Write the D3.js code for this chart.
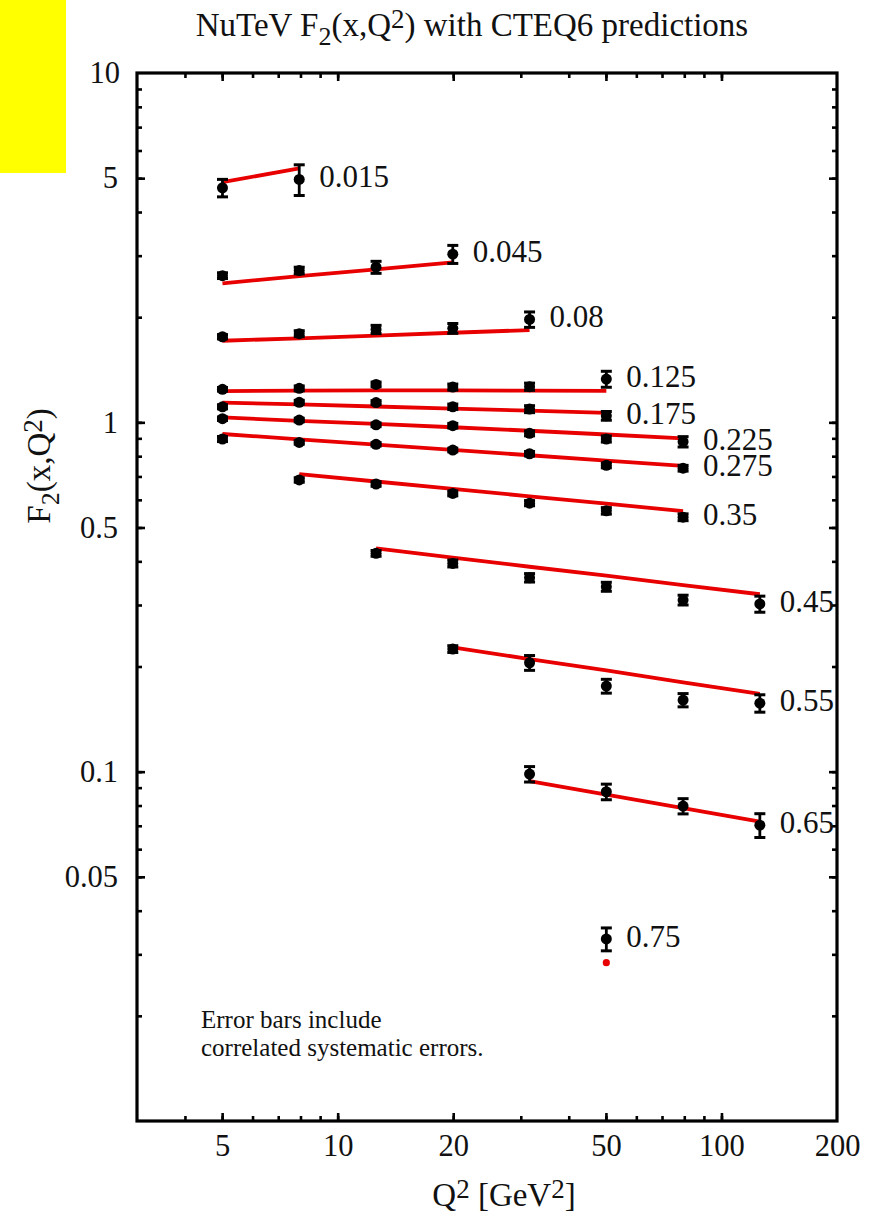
<!DOCTYPE html>
<html>
<head>
<meta charset="utf-8">
<script src="https://cdn.jsdelivr.net/npm/d3@7"></script>
<style>
  html, body { margin: 0; padding: 0; background: #fff; }
  svg { display: block; }
  text { font-family: "Liberation Serif", "Times New Roman", serif; fill: #111; }
</style>
</head>
<body>
<div id="chart"></div>
<script>
// ---------------- DATA ----------------
const Q2 = [5.01, 7.94, 12.59, 19.95, 31.62, 50.12, 79.43, 125.89];

const binLabels = ["0.015","0.045","0.08","0.125","0.175","0.225","0.275","0.35","0.45","0.55","0.65","0.75"];
const binStart  = [0, 0, 0, 0, 0, 0, 0, 1, 2, 3, 4, 5];

const f2_0015 = [4.69, 4.96];
const err_0015 = [0.27, 0.50];
const cteq_0015 = [4.87, 5.33];

const f2_0045 = [2.63, 2.72, 2.78, 3.03];
const err_0045 = [0.05, 0.06, 0.11, 0.18];
const cteq_0045 = [2.50, 2.62, 2.74, 2.87];

const f2_008 = [1.758, 1.794, 1.845, 1.858, 1.97];
const err_008 = [0.025, 0.035, 0.05, 0.06, 0.10];
const cteq_008 = [1.712, 1.74, 1.77, 1.805, 1.837];

const f2_0125 = [1.243, 1.251, 1.284, 1.262, 1.265, 1.33];
const err_0125 = [0.015, 0.02, 0.02, 0.025, 0.03, 0.07];
const cteq_0125 = [1.229, 1.232, 1.235, 1.235, 1.232, 1.23];

const f2_0175 = [1.108, 1.141, 1.139, 1.108, 1.091, 1.044];
const err_0175 = [0.015, 0.015, 0.015, 0.02, 0.025, 0.03];
const cteq_0175 = [1.139, 1.125, 1.11, 1.095, 1.08, 1.065];

const f2_0225 = [1.024, 1.015, 0.984, 0.978, 0.930, 0.896, 0.880];
const err_0225 = [0.012, 0.012, 0.012, 0.015, 0.015, 0.018, 0.03];
const cteq_0225 = [1.033, 1.01, 0.99, 0.968, 0.946, 0.923, 0.900];

const f2_0275 = [0.896, 0.876, 0.865, 0.833, 0.813, 0.753, 0.739];
const err_0275 = [0.015, 0.01, 0.01, 0.01, 0.012, 0.012, 0.014];
const cteq_0275 = [0.926, 0.894, 0.863, 0.834, 0.805, 0.777, 0.751];

const f2_035 = [0.684, 0.666, 0.626, 0.587, 0.558, 0.535];
const err_035 = [0.01, 0.01, 0.01, 0.01, 0.012, 0.012];
const cteq_035 = [0.711, 0.677, 0.645, 0.614, 0.585, 0.557];

const f2_045 = [0.4217, 0.3945, 0.359, 0.3384, 0.310, 0.302];
const err_045 = [0.008, 0.009, 0.01, 0.01, 0.01, 0.016];
const cteq_045 = [0.436, 0.410, 0.386, 0.364, 0.342, 0.322];

const f2_055 = [0.2244, 0.205, 0.1758, 0.1603, 0.157];
const err_055 = [0.005, 0.01, 0.008, 0.007, 0.009];
const cteq_055 = [0.227, 0.210, 0.195, 0.180, 0.167];

const f2_065 = [0.0984, 0.0876, 0.0797, 0.0703];
const err_065 = [0.005, 0.0045, 0.004, 0.0055];
const cteq_065 = [0.094, 0.086, 0.0786, 0.0719];

const f2_075 = [0.0332];
const err_075 = [0.0025];
const cteq_075 = [0.0284];

const f2All   = [f2_0015, f2_0045, f2_008, f2_0125, f2_0175, f2_0225, f2_0275, f2_035, f2_045, f2_055, f2_065, f2_075];
const errAll  = [err_0015, err_0045, err_008, err_0125, err_0175, err_0225, err_0275, err_035, err_045, err_055, err_065, err_075];
const cteqAll = [cteq_0015, cteq_0045, cteq_008, cteq_0125, cteq_0175, cteq_0225, cteq_0275, cteq_035, cteq_045, cteq_055, cteq_065, cteq_075];

const xTickLabels = [5, 10, 20, 50, 100, 200];
const yTickLabels = [0.05, 0.1, 0.5, 1, 5, 10];

const titleMain = "NuTeV F";
const noteLines = ["Error bars include", "correlated systematic errors."];

// ---------------- LAYOUT ----------------
const W = 883, H = 1215;
const L = 137, R = 837, T = 73, B = 1121;

const svg = d3.select("#chart").append("svg")
  .attr("width", W).attr("height", H);

svg.append("rect").attr("x", 0).attr("y", 0).attr("width", 66).attr("height", 173)
  .attr("fill", "#ffff00");

const x = d3.scaleLog().domain([3, 200]).range([L, R]);
const y = d3.scaleLog().domain([0.01, 10]).range([B, T]);

const fontTick = 30.5;

const xMinor = x.ticks().filter(v => v > 3 && v < 200);
const yMinor = y.ticks().filter(v => v > 0.01 && v < 10);

function styleAxis(g) {
  g.select(".domain").remove();
  g.selectAll(".tick line").attr("stroke", "#000").attr("stroke-width", 2.6);
  g.selectAll(".tick text").attr("font-size", fontTick)
    .attr("font-family", "Liberation Serif, serif").attr("fill", "#111");
}

// bottom
svg.append("g").attr("transform", `translate(0,${B})`)
  .call(d3.axisBottom(x).tickValues(xMinor).tickSize(-5).tickFormat(""))
  .call(styleAxis);
svg.append("g").attr("transform", `translate(0,${B})`)
  .call(d3.axisBottom(x).tickValues(xTickLabels.filter(v => v < 200)).tickSize(-8).tickPadding(13).tickFormat(d3.format("~g")))
  .call(styleAxis);
svg.append("g").attr("transform", `translate(0,${B})`)
  .call(d3.axisBottom(x).tickValues([200]).tickSize(0).tickPadding(13).tickFormat(d3.format("~g")))
  .call(styleAxis);
// top
svg.append("g").attr("transform", `translate(0,${T})`)
  .call(d3.axisTop(x).tickValues(xMinor).tickSize(-5).tickFormat(""))
  .call(styleAxis);
svg.append("g").attr("transform", `translate(0,${T})`)
  .call(d3.axisTop(x).tickValues(xTickLabels.filter(v => v < 200)).tickSize(-8).tickFormat(""))
  .call(styleAxis);
// left
svg.append("g").attr("transform", `translate(${L},0)`)
  .call(d3.axisLeft(y).tickValues(yMinor).tickSize(-5).tickFormat(""))
  .call(styleAxis);
svg.append("g").attr("transform", `translate(${L},0)`)
  .call(d3.axisLeft(y).tickValues(yTickLabels.filter(v => v < 10)).tickSize(-8).tickPadding(19).tickFormat(d3.format("~g")))
  .call(styleAxis);
svg.append("g").attr("transform", `translate(${L},0)`)
  .call(d3.axisLeft(y).tickValues([10]).tickSize(0).tickPadding(17).tickFormat(d3.format("~g")))
  .call(styleAxis);
// right
svg.append("g").attr("transform", `translate(${R},0)`)
  .call(d3.axisRight(y).tickValues(yMinor).tickSize(-5).tickFormat(""))
  .call(styleAxis);
svg.append("g").attr("transform", `translate(${R},0)`)
  .call(d3.axisRight(y).tickValues(yTickLabels.filter(v => v < 10)).tickSize(-8).tickFormat(""))
  .call(styleAxis);

// frame
svg.append("rect").attr("x", L).attr("y", T).attr("width", R - L).attr("height", B - T)
  .attr("fill", "none").attr("stroke", "#000").attr("stroke-width", 3.2);

// ---------------- SERIES ----------------
const series = binLabels.map((lab, i) => ({
  label: lab,
  pts: f2All[i].map((v, j) => ({ q: Q2[binStart[i] + j], f: v, e: errAll[i][j], p: cteqAll[i][j] }))
}));

const plot = svg.append("g");
const line = d3.line().x(d => x(d.q)).y(d => y(d.p));
const red = "#e80000";

series.forEach(s => {
  const g = plot.append("g");
  if (s.pts.length > 1) {
    g.append("path").attr("d", line(s.pts)).attr("fill", "none")
      .attr("stroke", red).attr("stroke-width", 3.8);
  } else {
    g.append("circle").attr("cx", x(s.pts[0].q)).attr("cy", y(s.pts[0].p))
      .attr("r", 3.6).attr("fill", red);
  }
  s.pts.forEach(d => {
    const cx = x(d.q);
    const y1 = y(d.f + d.e), y2 = y(d.f - d.e);
    g.append("line").attr("x1", cx).attr("x2", cx).attr("y1", y1).attr("y2", y2)
      .attr("stroke", "#000").attr("stroke-width", 2.8);
    [y1, y2].forEach(yy => g.append("line").attr("x1", cx - 5.5).attr("x2", cx + 5.5)
      .attr("y1", yy).attr("y2", yy).attr("stroke", "#000").attr("stroke-width", 3));
    g.append("circle").attr("cx", cx).attr("cy", y(d.f)).attr("r", 5.5).attr("fill", "#000");
  });
  const last = s.pts[s.pts.length - 1];
  g.append("text").attr("x", x(last.q) + 20).attr("y", y(last.f) - 3)
    .attr("dy", "0.35em").attr("font-size", 31).text(s.label);
});

// ---------------- TEXT ----------------
const title = svg.append("text").attr("x", 472).attr("y", 36)
  .attr("text-anchor", "middle").attr("font-size", 33);
title.append("tspan").text(titleMain);
title.append("tspan").attr("font-size", 26).attr("dy", 9).text("2");
title.append("tspan").attr("dy", -9).text("(x,Q");
title.append("tspan").attr("font-size", 27).attr("dy", -8).text("2");
title.append("tspan").attr("dy", 8).text(") with CTEQ6 predictions");

const xt = svg.append("text").attr("x", 504).attr("y", 1206)
  .attr("text-anchor", "middle").attr("font-size", 33);
xt.append("tspan").text("Q");
xt.append("tspan").attr("font-size", 27).attr("dy", -8).text("2");
xt.append("tspan").attr("dy", 8).text(" [GeV");
xt.append("tspan").attr("font-size", 27).attr("dy", -8).text("2");
xt.append("tspan").attr("dy", 8).text("]");

const yt = svg.append("text").attr("transform", "translate(50,466) rotate(-90)")
  .attr("text-anchor", "middle").attr("font-size", 33);
yt.append("tspan").text("F");
yt.append("tspan").attr("font-size", 26).attr("dy", 9).text("2");
yt.append("tspan").attr("dy", -9).text("(x,Q");
yt.append("tspan").attr("font-size", 27).attr("dy", -8).text("2");
yt.append("tspan").attr("dy", 8).text(")");

svg.append("text").attr("x", 201).attr("y", 1028).attr("font-size", 25).text(noteLines[0]);
svg.append("text").attr("x", 201).attr("y", 1056).attr("font-size", 25).text(noteLines[1]);
</script>
</body>
</html>
